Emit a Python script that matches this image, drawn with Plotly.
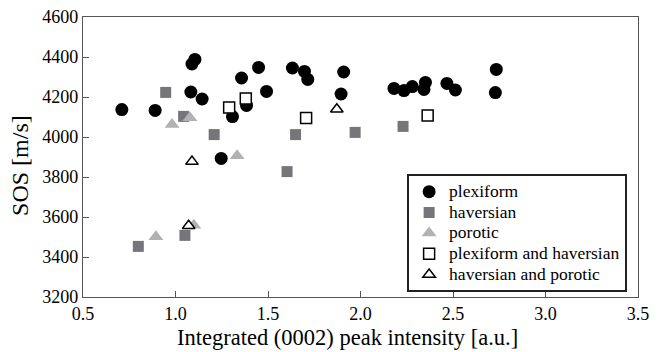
import plotly.graph_objects as go

# ---- data ----
plex_x = [0.71, 0.89, 1.089, 1.105, 1.083, 1.144, 1.247, 1.308, 1.357, 1.384, 1.449, 1.492,
          1.632, 1.697, 1.715, 1.909, 1.895, 2.181, 2.235, 2.280, 2.351, 2.343, 2.467, 2.513,
          2.734, 2.729]
plex_y = [4137, 4133, 4365, 4388, 4225, 4190, 3893, 4102, 4295, 4158, 4348, 4228,
          4345, 4328, 4288, 4325, 4215, 4243, 4232, 4252, 4273, 4238, 4268, 4235,
          4338, 4222]

hav_x = [0.947, 1.044, 1.209, 1.649, 1.603, 1.971, 2.230, 0.799, 1.051]
hav_y = [4223, 4103, 4012, 4012, 3827, 4023, 4053, 3453, 3508]

por_x = [0.981, 1.078, 1.333, 0.894, 1.099]
por_y = [4062, 4096, 3906, 3501, 3559]

plexhav_x = [1.290, 1.380, 1.706, 2.363]
plexhav_y = [4148, 4192, 4095, 4107]

havpor_x = [1.089, 1.872, 1.071]
havpor_y = [3877, 4139, 3556]

x_ticks = [0.5, 1.0, 1.5, 2.0, 2.5, 3.0, 3.5]
y_ticks = [3200, 3400, 3600, 3800, 4000, 4200, 4400, 4600]

series_names = ["plexiform", "haversian", "porotic",
                "plexiform and haversian", "haversian and porotic"]

FONT = "Liberation Serif, Times New Roman, Times, serif"


def leg(name):
    # legend text drawn a bit larger than the (compact) legend row height
    return f'<span style="font-size:17.5px">{name}</span>'


fig = go.Figure()
fig.add_trace(go.Scatter(x=plex_x, y=plex_y, mode="markers", name=leg(series_names[0]),
                         marker=dict(symbol="circle", size=13, color="black",
                                     line=dict(width=0))))
fig.add_trace(go.Scatter(x=hav_x, y=hav_y, mode="markers", name=leg(series_names[1]),
                         marker=dict(symbol="square", size=11, color="#76767a",
                                     line=dict(width=0))))
fig.add_trace(go.Scatter(x=por_x, y=por_y, mode="markers", name=leg(series_names[2]),
                         marker=dict(symbol="triangle-up", size=13, color="#b2b2b2",
                                     line=dict(width=0))))
fig.add_trace(go.Scatter(x=plexhav_x, y=plexhav_y, mode="markers",
                         name=leg(series_names[3]),
                         marker=dict(symbol="square", size=11, color="white",
                                     line=dict(width=1.5, color="black"))))
fig.add_trace(go.Scatter(x=havpor_x, y=havpor_y, mode="markers",
                         name=leg(series_names[4]),
                         marker=dict(symbol="triangle-up", size=11, color="white",
                                     line=dict(width=1.5, color="black"))))

axis_common = dict(showgrid=False, zeroline=False, showline=True, mirror=True,
                   linecolor="#555555", linewidth=1.2, ticks="inside", ticklen=6,
                   tickwidth=1, tickcolor="#555555",
                   tickfont=dict(family=FONT, size=18, color="black"))

fig.update_xaxes(range=[0.5, 3.5], tickvals=x_ticks,
                 ticktext=[f"{v:.1f}" for v in x_ticks], **axis_common)
fig.update_yaxes(range=[3200, 4600], tickvals=y_ticks,
                 ticktext=[str(v) for v in y_ticks], **axis_common)

fig.add_annotation(text="Integrated (0002) peak intensity [a.u.]",
                   xref="paper", yref="paper", x=0.4757, y=-0.146,
                   xanchor="center", yanchor="middle", showarrow=False,
                   font=dict(family=FONT, size=22.5, color="black"))
fig.add_annotation(text="SOS [m/s]", textangle=-90,
                   xref="paper", yref="paper", x=-0.1135, y=0.468,
                   xanchor="center", yanchor="middle", showarrow=False,
                   font=dict(family=FONT, size=24, color="black"))

fig.update_layout(
    width=664, height=352,
    margin=dict(l=83, r=26, t=17, b=55, autoexpand=False),
    plot_bgcolor="white", paper_bgcolor="white",
    font=dict(family=FONT, color="black"),
    legend=dict(x=0.584, y=0.438, xanchor="left", yanchor="top",
                bgcolor="white", bordercolor="#222222", borderwidth=2,
                font=dict(family=FONT, size=13.6, color="black"),
                tracegroupgap=0, itemsizing="trace"),
)

fig.write_html("out.html")
